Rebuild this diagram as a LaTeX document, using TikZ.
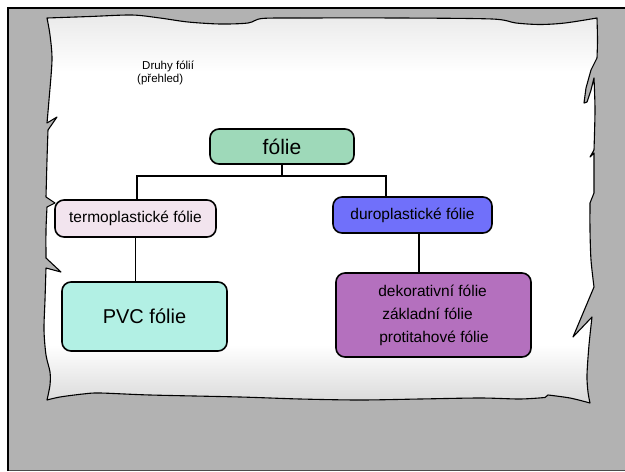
\documentclass[tikz,border=0pt]{standalone}
\usepackage{fontspec}
\setmainfont{Liberation Sans}
\definecolor{framegray}{RGB}{178,178,178}
\definecolor{cfolie}{RGB}{158,217,185}
\definecolor{ctermo}{RGB}{242,228,238}
\definecolor{cduro}{RGB}{112,112,250}
\definecolor{cpvc}{RGB}{178,240,228}
\definecolor{cdekor}{RGB}{180,112,190}
\tikzset{
  box/.style={draw=black, line width=1.6pt, rounded corners=9pt, inner sep=0pt, align=center},
  conn/.style={draw=black, line width=1.5pt},
  paperline/.style={draw=black, line width=1.1pt, line join=round},
}
\newcommand{\paperoutline}{
  plot[smooth, tension=0.5] coordinates {(47,18) (90,16.5) (132,15) (160,18) (188,22) (220,24) (248,23) (262,18.5) (300,18) (400,18) (492,19) (516,23) (540,24.5) (565,23) (597,18)}
  -- plot[smooth, tension=0.5] coordinates {(597,18) (597.5,40) (597,58)}
  -- (591,70) -- (586,88) -- (584,103) -- (587,102) -- (591,90) -- (594,78)
  -- plot[smooth, tension=0.5] coordinates {(594,78) (595,110) (594,150)}
  -- (590,157) -- (594,153)
  -- (594,193) -- (590,203)
  -- plot[smooth, tension=0.5] coordinates {(590,203) (590,230) (591,260) (594,287)}
  -- (573,337) -- (592,317)
  -- plot[smooth, tension=0.5] coordinates {(592,317) (589,345) (587,375) (588,392) (590,403)}
  -- plot[smooth, tension=0.5] coordinates {(590,403) (570,398) (548,395)}
  -- (545,397.5)
  -- plot[smooth, tension=0.5] coordinates {(545,397.5) (520,399) (480,398) (420,399) (360,400) (300,399) (240,397) (150,395) (100,393) (83,394) (60,397) (47,400)}
  -- plot[smooth, tension=0.5] coordinates {(47,400) (50,385) (50,372) (46,355) (44,330) (45,300) (46,268)}
  -- (61,272) -- (46,258)
  -- plot[smooth, tension=0.5] coordinates {(46,258) (46,230) (47,207)}
  -- (55,203) -- (46,197)
  -- plot[smooth, tension=0.5] coordinates {(46,197) (47,160) (48,130)}
  -- (57,117) -- (47,123)
  -- plot[smooth, tension=0.5] coordinates {(47,123) (49,100) (52,60) (50,35) (47,18)}
  -- cycle
}
\begin{document}
\begin{tikzpicture}[x=1pt, y=-1pt]
\useasboundingbox (0,0) rectangle (625,472);
% frame
\fill[framegray] (8,8) rectangle (625,471);
\draw[line width=0.8pt, gray!60!black] (8,470.6) -- (625,470.6);
\draw[line width=2pt, black] (8,471) -- (8,8) -- (625,8);
% paper
\fill[white] \paperoutline;
\begin{scope}
  \clip \paperoutline;
  \shade[top color=gray!18, bottom color=white] (40,10) rectangle (605,72);
  \shade[top color=white, bottom color=gray!32] (40,345) rectangle (605,408);
\end{scope}
\draw[paperline] \paperoutline;
% title
\node[anchor=west, font=\fontsize{11.5}{13}\selectfont, inner sep=0pt] (t1) at (142,66) {Druhy fólií};
\node[anchor=west, font=\fontsize{11.5}{13}\selectfont, inner sep=0pt] (t2) at (137,80) {(přehled)};
% boxes
\node[box, fill=cfolie, minimum width=144pt, minimum height=35pt, font=\fontsize{21}{24}\selectfont] (folie) at (282,146.5) {fólie};
\node[box, fill=ctermo, minimum width=161pt, minimum height=37pt, font=\fontsize{15.5}{18}\selectfont] (termo) at (135.5,218.5) {termoplastické fólie};
\node[box, fill=cduro, minimum width=159pt, minimum height=36pt, font=\fontsize{15.5}{18}\selectfont] (duro) at (412.5,215) {duroplastické fólie};
\node[box, fill=cpvc, minimum width=165pt, minimum height=69pt, font=\fontsize{20}{23}\selectfont] (pvc) at (144.5,316.5) {PVC fólie};
\node[box, fill=cdekor, minimum width=195pt, minimum height=84pt, align=left, font=\fontsize{15.5}{23}\selectfont] (dekor) at (433.5,315) {dekorativní fólie\\\hspace*{4pt}základní fólie\\\hspace*{1pt}protitahové fólie};
% connectors
\coordinate (busL) at (137,176);
\coordinate (busR) at (386,176);
\coordinate (dj) at (419,250);
\draw[conn] (folie.south) -- (folie.south |- busL);
\draw[conn] (termo.north -| busL) -- (busL) -- (busR) -- (busR |- duro.north);
\draw[conn] (termo.south) -- (termo.south |- pvc.north);
\draw[conn] (dj |- duro.south) -- (dj |- dekor.north);
\end{tikzpicture}
\end{document}
